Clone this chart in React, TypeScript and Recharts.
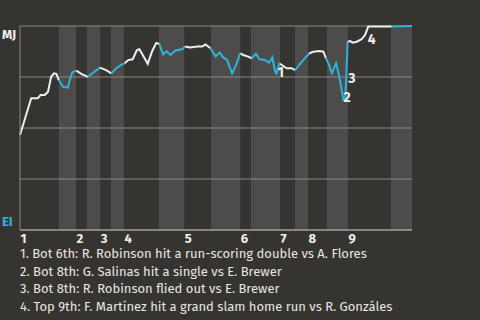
import { ComposedChart, Line, XAxis, YAxis, ReferenceArea, ReferenceLine, ReferenceDot } from 'recharts';

// half-inning start positions on the play axis (top 1st, bot 1st, top 2nd, ...)
const halfInningStarts = [0, 11.1, 16, 19.1, 22.9, 26, 29.7, 39.7, 46.9, 54.6, 62.9, 66, 74.3, 78.6, 82.3, 87.7, 93.7, 106];
const gameEnd = 112;
const inningLabels = ['1', '2', '3', '4', '5', '6', '7', '8', '9'];

const playX = [
  0, 3.2, 5.1, 5.9, 7.1, 8.0, 8.9, 9.7, 10.4, 11.1,
  12.3, 13.7, 14.2, 14.9, 15.4, 16.1, 17.5, 19.4, 21.3, 22.8,
  24.6, 26.1, 27.5, 28.9, 29.9, 30.9, 32.2, 33.4, 34.1, 34.9,
  36.5, 37.7, 38.9, 39.8, 40.9, 41.9, 43.0, 44.4, 46.3, 47.1,
  48.6, 50.7, 52.0, 53.0, 54.4, 55.9, 56.6, 57.1, 58.0, 59.1,
  60.6, 61.9, 62.9, 63.8, 65.2, 66.2, 67.4, 68.4, 70.0, 71.2,
  72.1, 72.9, 73.3, 74.1, 74.8, 76.2, 77.6, 78.6, 79.8, 81.4,
  82.6, 83.8, 85.5, 86.7, 87.4, 88.1, 89.1, 90.3, 90.9, 91.6,
  92.4, 92.9, 93.2, 93.6, 94.3, 95.1, 96.2, 97.6, 98.6, 99.5,
  106.2, 112,
];

// MJ win probability after each play
const mjWinProb = [
  0.466, 0.646, 0.646, 0.662, 0.662, 0.678, 0.751, 0.768, 0.765, 0.735,
  0.702, 0.698, 0.735, 0.771, 0.777, 0.781, 0.765, 0.751, 0.776, 0.796,
  0.784, 0.768, 0.793, 0.809, 0.817, 0.833, 0.837, 0.882, 0.886, 0.863,
  0.815, 0.874, 0.917, 0.912, 0.861, 0.876, 0.858, 0.880, 0.886, 0.899,
  0.895, 0.899, 0.899, 0.909, 0.891, 0.851, 0.863, 0.870, 0.846, 0.836,
  0.768, 0.817, 0.866, 0.858, 0.850, 0.842, 0.863, 0.837, 0.833, 0.820,
  0.847, 0.776, 0.768, 0.817, 0.809, 0.793, 0.793, 0.784, 0.809, 0.842,
  0.865, 0.874, 0.877, 0.874, 0.842, 0.817, 0.768, 0.817, 0.776, 0.719,
  0.637, 0.637, 0.745, 0.923, 0.926, 0.918, 0.923, 0.935, 0.956, 0.997,
  0.997, 1.0,
];

const notePlays = [62, 80, 82, 89];
const noteLabels = ['1', '2', '3', '4'];
const noteTexts = [
  '1. Bot 6th: R. Robinson hit a run-scoring double vs A. Flores',
  '2. Bot 8th: G. Salinas hit a single vs E. Brewer',
  '3. Bot 8th: R. Robinson flied out vs E. Brewer',
  '4. Top 9th: F. Martínez hit a grand slam home run vs R. Gonzáles',
];

const BG = '#363431';
const BAND = '#4e4c4a';
const GRID = '#8a8885';
const WHITE = '#eeeeee';
const CYAN = '#2bb5d8';
const FONT = '"Fira Sans", "Open Sans", sans-serif';
const noteOffsets = [[1, 3.5], [0, 2], [2, 5], [-0.5, 17]];

const halfOf = (x: number) => {
  let h = 0;
  halfInningStarts.forEach((s, i) => { if (x >= s) h = i; });
  return h;
};
const segTop = playX.slice(1).map((x, i) => halfOf((x + playX[i]) / 2) % 2 === 0);
const rows = playX.map((x, i) => {
  const before = i > 0 ? segTop[i - 1] : undefined;
  const after = i < segTop.length ? segTop[i] : undefined;
  return {
    x,
    top: before === true || after === true ? mjWinProb[i] : null,
    bot: before === false || after === false ? mjWinProb[i] : null,
  };
});
const bands = halfInningStarts
  .map((s, i) => ({ x1: s, x2: halfInningStarts[i + 1] ?? gameEnd, bottom: i % 2 === 1 }))
  .filter(b => b.bottom);
const inningTicks = halfInningStarts.filter((_, i) => i % 2 === 0);

const XTick = (props: any) => {
  const idx = inningTicks.indexOf(props.payload.value);
  return (
    <text x={props.x + 0.5} y={props.y + 13} fill={WHITE} fontSize={13} fontWeight={700} fontFamily={FONT} textAnchor="start">
      {inningLabels[idx]}
    </text>
  );
};

const YTick = (props: any) => {
  const v = props.payload.value;
  if (v === 1) return <text x={2} y={props.y + 12.5} fill={WHITE} fontSize={13} fontWeight={700} fontFamily={FONT}>MJ</text>;
  if (v === 0) return <text x={2} y={props.y - 4} fill={CYAN} fontSize={13} fontWeight={700} fontFamily={FONT}>EI</text>;
  return <g />;
};

export default function App() {
  return (
    <div style={{ position: 'relative', width: 480, height: 320, background: BG, fontFamily: FONT, overflow: 'hidden' }}>
      <style>{'body{margin:0}'}</style>
      <ComposedChart width={480} height={250} data={rows} margin={{ top: 26, right: 68, bottom: 0, left: 0 }}>
        <XAxis type="number" dataKey="x" domain={[0, gameEnd]} ticks={inningTicks} tick={<XTick />}
          tickLine={false} tickSize={0} tickMargin={0} height={20} axisLine={{ stroke: '#d4d2cf' }} interval={0} />
        <YAxis type="number" domain={[0, 1]} ticks={[0, 0.25, 0.5, 0.75, 1]} tick={<YTick />}
          tickLine={false} width={20} axisLine={{ stroke: GRID }} interval={0} />
        {bands.map((b, i) => (
          <ReferenceArea key={i} x1={b.x1} x2={b.x2} y1={0} y2={1} fill={BAND} fillOpacity={1} stroke="none" />
        ))}
        {[0.25, 0.5, 0.75, 1].map(v => (
          <ReferenceLine key={v} y={v} stroke={GRID} strokeWidth={1} />
        ))}
        <Line dataKey="top" stroke={WHITE} strokeWidth={2} dot={false} connectNulls={false} isAnimationActive={false} />
        <Line dataKey="bot" stroke={CYAN} strokeWidth={2} dot={false} connectNulls={false} isAnimationActive={false} />
        {notePlays.map((p, i) => (
          <ReferenceDot key={i} x={playX[p]} y={mjWinProb[p]} r={0}
            shape={(s: any) => (
              <text x={s.cx + noteOffsets[i][0]} y={s.cy + noteOffsets[i][1]} fill={WHITE} fontSize={14}
                fontWeight={700} fontFamily={FONT}>{noteLabels[i]}</text>
            )} />
        ))}
      </ComposedChart>
      <div style={{ position: 'absolute', left: 20, top: 245, color: '#e8e6e3', fontSize: 13, lineHeight: '17.7px' }}>
        {noteTexts.map((t, i) => <div key={i}>{t}</div>)}
      </div>
    </div>
  );
}
